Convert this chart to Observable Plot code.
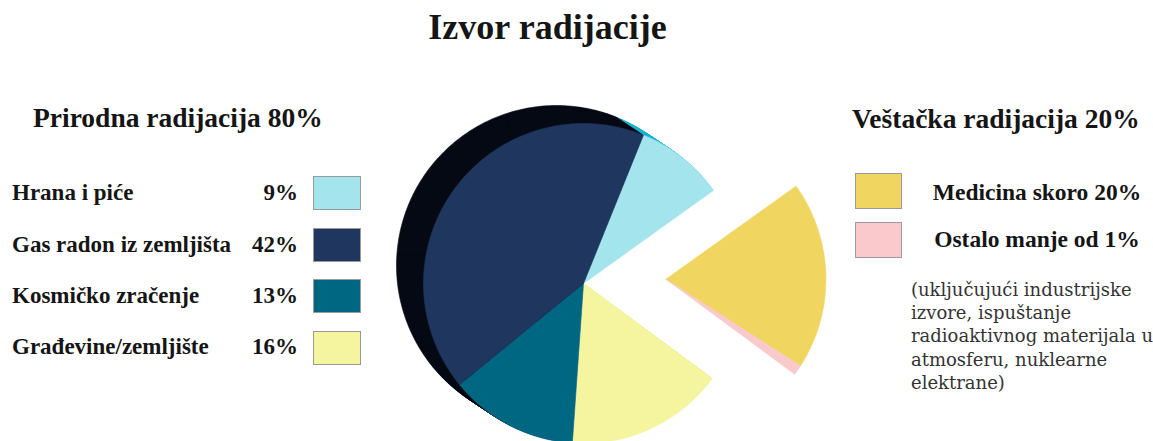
<!DOCTYPE html>
<html><head><meta charset="utf-8">
<script src="https://cdn.jsdelivr.net/npm/d3@7"></script>
<script src="https://cdn.jsdelivr.net/npm/@observablehq/plot@0.6"></script>
<style>
body{margin:0;background:#fff;}
#wrap{position:relative;width:1153px;height:441px;overflow:hidden;font-family:"Liberation Serif","Times New Roman",serif;color:#151515;}
.t{position:absolute;white-space:nowrap;line-height:1;font-weight:bold;}
.n{position:absolute;white-space:nowrap;line-height:1;font-family:"DejaVu Serif",serif;color:#333;}
.box{position:absolute;box-sizing:border-box;border:1.5px solid #9a9a9a;}
#chart{position:absolute;left:380px;top:60px;}
</style></head><body><div id="wrap"></div>
<script>
const title = "Izvor radijacije";
const naturalTitle = "Prirodna radijacija 80%";
const artificialTitle = "Veštačka radijacija 20%";
const naturalLabels = ["Hrana i piće", "Gas radon iz zemljišta", "Kosmičko zračenje", "Građevine/zemljište"];
const naturalValues = [9, 42, 13, 16];
const naturalColors = ["#a3e4ed", "#1f365e", "#006782", "#f5f5a0"];
const naturalSideColors = ["#19b3ce", "#050a14", "#050a14", "#e6e68c"];
const artificialLabels = ["Medicina skoro 20%", "Ostalo manje od 1%"];
const artificialValues = [19, 1];
const artificialColors = ["#f0d560", "#f9c9cc"];
const noteLines = ["(uključujući industrijske", "izvore, ispuštanje", "radioaktivnog materijala u", "atmosferu, nuklearne", "elektrane)"];
// clockwise order of the slices from the top of the pie
const pieOrder = ["Hrana i piće", "Medicina skoro 20%", "Ostalo manje od 1%", "Građevine/zemljište", "Kosmičko zračenje", "Gas radon iz zemljišta"];

const wrap = document.getElementById("wrap");
function txt(cls, s, size, left, baseline, extra) {
  const d = document.createElement("div");
  d.className = cls; d.textContent = s;
  d.style.fontSize = size + "px";
  d.style.top = (baseline - 0.84 * size) + "px";
  if (left != null) d.style.left = left + "px";
  if (extra) Object.assign(d.style, extra);
  wrap.appendChild(d);
  return d;
}
function box(left, top, w, h, color) {
  const d = document.createElement("div");
  d.className = "box";
  Object.assign(d.style, {left: left + "px", top: top + "px", width: w + "px", height: h + "px", background: color});
  wrap.appendChild(d);
}

// title and legends
txt("t", title, 36, null, 39, {left: "0px", width: "1095px", textAlign: "center"});
txt("t", naturalTitle, 27.5, 33, 127);
const rowBase = [200, 252, 303, 354];
const rowTop = [176, 228, 279, 331];
naturalLabels.forEach((l, i) => {
  txt("t", l, 23, 12, rowBase[i]);
  txt("t", naturalValues[i] + "%", 23, null, rowBase[i], {right: (1153 - 298) + "px"});
  box(313, rowTop[i], 48, 34, naturalColors[i]);
});
txt("t", artificialTitle, 27.5, 852, 128);
const aBase = [201, 248];
const aTop = [173, 222];
artificialLabels.forEach((l, i) => {
  txt("t", l, 23.5, null, aBase[i], {left: "917px", width: "240px", textAlign: "center"});
  box(855, aTop[i], 47, 36, artificialColors[i]);
});
noteLines.forEach((l, i) => txt("n", l, 18, 911, 296 + i * 23.3));

// pie geometry (unit radius)
const slices = pieOrder.map(name => {
  let i = naturalLabels.indexOf(name);
  if (i >= 0) return {name, value: naturalValues[i], color: naturalColors[i], side: naturalSideColors[i], natural: true};
  i = artificialLabels.indexOf(name);
  return {name, value: artificialValues[i], color: artificialColors[i], natural: false};
});
const a0 = 22 * Math.PI / 180;
const arcs = d3.pie().sort(null).value(d => d.value).startAngle(a0).endAngle(a0 + 2 * Math.PI)(slices);
const art = arcs.filter(a => !a.data.natural);
const midArt = (d3.min(art, a => a.startAngle) + d3.max(art, a => a.endAngle)) / 2;
const explode = 0.515;
const ex = explode * Math.sin(midArt), ey = explode * Math.cos(midArt) + 0.03;
const shadow = [-27 / 160, 18 / 160];

function wedge(a, cx, cy, id, fill) {
  const pts = [{id, fill, x: cx, y: cy}];
  const n = Math.max(2, Math.ceil((a.endAngle - a.startAngle) / (Math.PI / 180)));
  for (let k = 0; k <= n; k++) {
    const t = a.startAngle + (a.endAngle - a.startAngle) * k / n;
    pts.push({id, fill, x: cx + Math.sin(t), y: cy + Math.cos(t)});
  }
  pts.push({id, fill, x: cx, y: cy});
  return pts;
}
const points = [];
const steps = 20;
arcs.filter(a => a.data.natural).forEach(a => {
  for (let s = steps; s >= 1; s--) {
    const f = s / steps;
    points.push(...wedge(a, shadow[0] * f, shadow[1] * f, "side-" + a.data.name + "-" + s, a.data.side));
  }
});
arcs.forEach(a => {
  const cx = a.data.natural ? 0 : ex, cy = a.data.natural ? 0 : ey;
  points.push(...wedge(a, cx, cy, "face-" + a.data.name, a.data.color));
});

const chart = Plot.plot({
  width: 470, height: 381, margin: 0,
  x: {domain: [-203 / 160, 267 / 160], axis: null},
  y: {domain: [-158 / 160, 223 / 160], axis: null},
  color: {type: "identity"},
  marks: [
    Plot.line(points, {x: "x", y: "y", z: "id", fill: "fill", stroke: "fill", strokeWidth: 0.6, curve: "linear"})
  ]
});
chart.id = "chart";
wrap.appendChild(chart);
</script></body></html>
